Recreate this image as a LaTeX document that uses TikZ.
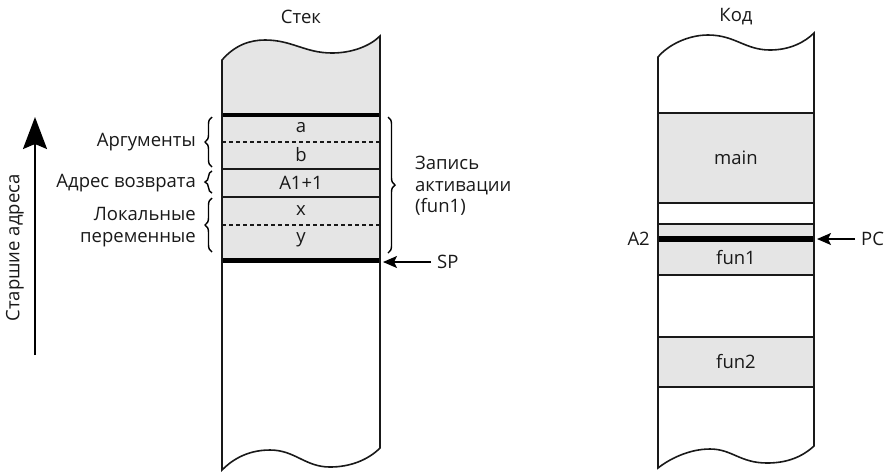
\documentclass[tikz,border=0pt]{standalone}
\usepackage{fontspec}
\setmainfont{Open Sans}
\usetikzlibrary{arrows.meta,decorations.pathreplacing}

\tikzset{
  mem/.style={line width=1.6pt, draw=black!90},
  cellfill/.style={fill=black!10},
  sep/.style={line width=1.3pt, draw=black!90},
  sepdash/.style={line width=1.3pt, draw=black!90, dash pattern=on 4pt off 3pt},
  lbl/.style={font=\fontsize{18.5}{21.5}\selectfont, text=black!90, inner sep=1pt},
  ptr/.style={-{Stealth[length=14pt,width=12pt,inset=3pt]}, line width=1.6pt, shorten <=5pt},
  bigptr/.style={-{Stealth[length=32pt,width=24pt,inset=5pt]}, line width=2pt},
  brc/.style={decorate, decoration={brace, amplitude=7pt}, line width=1.4pt},
}

\begin{document}
\begin{tikzpicture}[x=1pt, y=-1pt]
  \useasboundingbox (0,0) rectangle (890,475);

  % titles
  \node[lbl] (stack) at (301,17) {Стек};
  \node[lbl] (code) at (736,17) {Код};

  % stack: grey part
  \fill[cellfill] (222,60) .. controls (235,45) and (250,40) .. (265,40)
    .. controls (292,40) and (305,53) .. (332,53)
    .. controls (352,53) and (370,46) .. (380,36) -- (380,260) -- (222,260) -- cycle;

  % stack: lines
  \draw[line width=4pt] (222,115) -- (380,115);
  \draw[sepdash] (222,142) -- (380,142);
  \draw[sep] (222,169) -- (380,169);
  \draw[sep] (222,197) -- (380,197);
  \draw[sepdash] (222,225) -- (380,225);
  \draw[line width=5pt] (222,260) -- (380,260);

  % stack: outline
  \draw[mem] (222,60) .. controls (235,45) and (250,40) .. (265,40)
    .. controls (292,40) and (305,53) .. (332,53)
    .. controls (352,53) and (370,46) .. (380,36) -- (380,448)
    .. controls (368,460) and (350,467) .. (330,467)
    .. controls (305,467) and (295,450) .. (270,450)
    .. controls (245,450) and (230,462) .. (222,470) -- cycle;

  % stack: cells
  \node[lbl] (arga) at (301,128) {a};
  \node[lbl] (argb) at (301,155) {b};
  \node[lbl] (retaddr) at (301,183) {A1+1};
  \node[lbl] (locx) at (301,211) {x};
  \node[lbl] (locy) at (301,240) {y};

  % braces and their labels
  \draw[brc] (212,167) -- (212,117);
  \draw[brc] (212,193) -- (212,171);
  \draw[brc] (212,252) -- (212,198);
  \node[lbl, anchor=east] (args) at (197,142) {Аргументы};
  \node[lbl, anchor=east] (ret) at (197,183) {Адрес возврата};
  \node[lbl, anchor=east, align=right] (locals) at (197,227) {Локальные\\переменные};

  \draw[brc] (388,117) -- (388,253);
  \node[lbl, anchor=west, align=left] (frame) at (414,186) {Запись\\активации\\(fun1)};

  % stack pointer
  \coordinate (stackR) at (383,0);
  \node[lbl, anchor=west] (sp) at (436,262) {SP};
  \draw[ptr] (sp.west) -- (sp.west -| stackR);

  % address direction
  \coordinate (lowaddr) at (35,355);
  \coordinate (highaddr) at (35,117);
  \draw[bigptr] (lowaddr) -- (highaddr);
  \node[lbl, rotate=90] (older) at (15,248) {Старшие адреса};

  % code: grey parts
  \fill[cellfill] (658,113) rectangle (814,203);
  \fill[cellfill] (658,224) rectangle (814,275);
  \fill[cellfill] (658,337) rectangle (814,387);

  % code: lines
  \draw[sep] (658,113) -- (814,113);
  \draw[sep] (658,203) -- (814,203);
  \draw[sep] (658,224) -- (814,224);
  \draw[line width=6pt] (658,239) -- (814,239);
  \draw[sep] (658,275) -- (814,275);
  \draw[sep] (658,337) -- (814,337);
  \draw[sep] (658,387) -- (814,387);

  % code: outline
  \draw[mem] (658,57) .. controls (668,45) and (688,35) .. (708,35)
    .. controls (735,35) and (745,50) .. (770,50)
    .. controls (790,50) and (805,42) .. (814,33) -- (814,446)
    .. controls (802,457) and (787,463) .. (767,463)
    .. controls (740,463) and (732,449) .. (710,449)
    .. controls (688,449) and (668,460) .. (658,468) -- cycle;

  % code: blocks
  \node[lbl] (main) at (736,158) {main};
  \node[lbl] (fun1) at (736,258) {fun1};
  \node[lbl] (fun2) at (736,362) {fun2};

  % program counter
  \coordinate (codeR) at (817,0);
  \node[lbl, anchor=east] (atwo) at (651,239) {A2};
  \node[lbl, anchor=west] (pc) at (860,239) {PC};
  \draw[ptr] (pc.west) -- (pc.west -| codeR);
\end{tikzpicture}
\end{document}
